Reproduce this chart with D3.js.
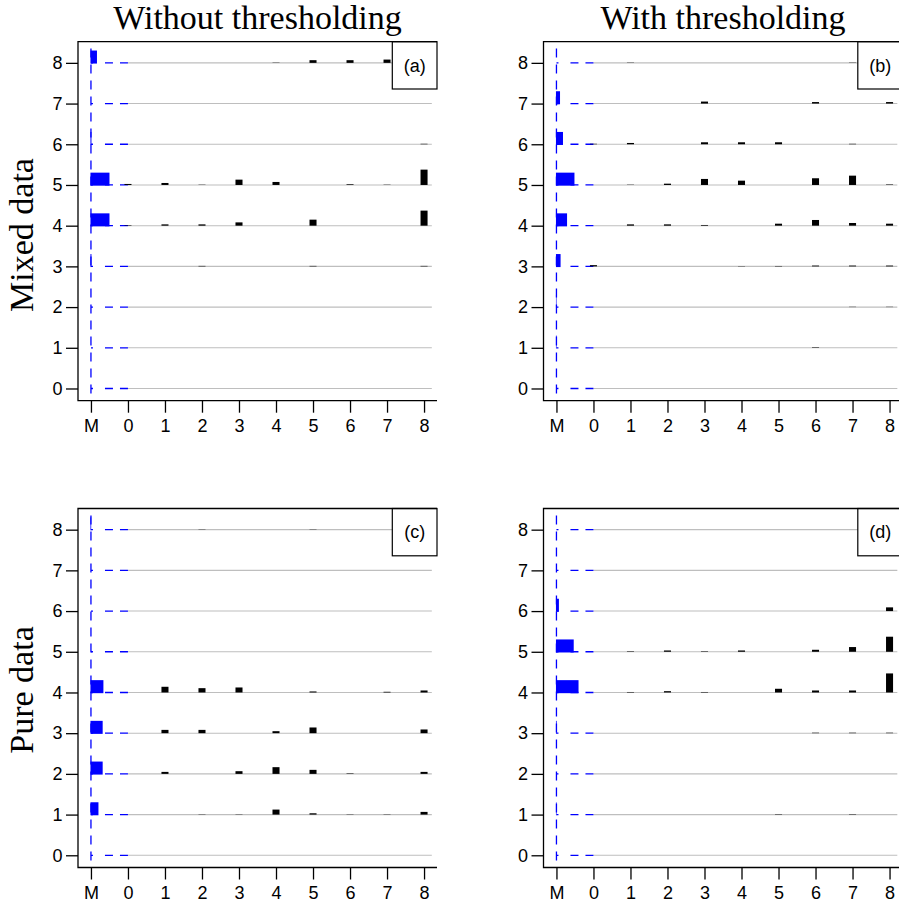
<!DOCTYPE html>
<html>
<head>
<meta charset="utf-8">
<script src="https://cdn.jsdelivr.net/npm/d3@7"></script>
<style>
  html, body { margin: 0; padding: 0; background: #fff; }
  svg { display: block; }
</style>
</head>
<body>
<svg id="chart" width="899" height="909"></svg>
<script>
// ---------- DATA ----------
const xTickValues = [-1, 0, 1, 2, 3, 4, 5, 6, 7, 8];
const xTickLabels = ["M", "0", "1", "2", "3", "4", "5", "6", "7", "8"];
const yTickValues = [0, 1, 2, 3, 4, 5, 6, 7, 8];
const columnTitles = ["Without thresholding", "With thresholding"];
const rowTitles = ["Mixed data", "Pure data"];
const panelLabels = ["(a)", "(b)", "(c)", "(d)"];

// black bars: index = row (0..8), inner index = column (0..8); value = proportion
const barsA = [
  [0, 0, 0, 0, 0, 0, 0, 0, 0],
  [0, 0, 0, 0, 0, 0, 0, 0, 0],
  [0, 0, 0, 0, 0, 0, 0, 0, 0],
  [0, 0, 0.012, 0, 0, 0.012, 0, 0, 0.012],
  [0.012, 0.032, 0.032, 0.081, 0, 0.148, 0, 0, 0.37],
  [0.025, 0.049, 0.007, 0.131, 0.074, 0, 0.017, 0.007, 0.377],
  [0, 0, 0, 0, 0, 0, 0, 0, 0.012],
  [0, 0, 0, 0, 0, 0, 0, 0, 0],
  [0, 0, 0, 0, 0.007, 0.066, 0.066, 0.081, 0]
];
const barsB = [
  [0, 0, 0, 0, 0, 0, 0, 0, 0],
  [0, 0, 0, 0, 0, 0, 0.012, 0, 0],
  [0, 0, 0, 0, 0, 0, 0, 0.007, 0.007],
  [0.03, 0, 0, 0, 0.007, 0.01, 0.02, 0.02, 0.02],
  [0, 0.032, 0.032, 0.017, 0, 0.049, 0.14, 0.066, 0.049],
  [0, 0.007, 0.032, 0.148, 0.106, 0, 0.165, 0.229, 0.012],
  [0.012, 0.032, 0, 0.049, 0.049, 0.049, 0, 0.012, 0],
  [0, 0, 0, 0.049, 0, 0, 0.037, 0, 0.037],
  [0, 0.007, 0, 0, 0, 0, 0, 0.007, 0]
];
const barsC = [
  [0, 0, 0, 0, 0, 0, 0, 0, 0],
  [0, 0, 0.007, 0.007, 0.123, 0.032, 0.007, 0.007, 0.066],
  [0, 0.049, 0, 0.066, 0.165, 0.099, 0.012, 0, 0.049],
  [0, 0.081, 0.081, 0, 0.049, 0.14, 0, 0, 0.091],
  [0, 0.14, 0.106, 0.123, 0, 0.025, 0, 0.017, 0.049],
  [0, 0, 0, 0, 0, 0, 0, 0, 0],
  [0, 0, 0, 0, 0, 0, 0, 0, 0],
  [0, 0, 0, 0, 0, 0, 0, 0, 0],
  [0, 0, 0.007, 0, 0, 0.007, 0, 0, 0]
];
const barsD = [
  [0, 0, 0, 0, 0, 0, 0, 0, 0],
  [0, 0, 0, 0, 0, 0.01, 0, 0.01, 0],
  [0, 0, 0, 0, 0, 0, 0, 0, 0],
  [0, 0, 0, 0, 0, 0, 0.012, 0.012, 0.012],
  [0, 0.012, 0.032, 0.012, 0, 0.091, 0.049, 0.049, 0.468],
  [0, 0.012, 0.032, 0.012, 0.032, 0, 0.049, 0.116, 0.37],
  [0, 0, 0, 0, 0, 0, 0, 0, 0.091],
  [0, 0, 0, 0, 0, 0, 0, 0, 0],
  [0, 0, 0, 0, 0, 0, 0, 0, 0]
];
// blue marginal bars (column M): index = row (0..8)
const marginA = [0, 0, 0, 0.027, 0.514, 0.514, 0.027, 0, 0.176];
const marginB = [0, 0.015, 0.015, 0.125, 0.3, 0.5, 0.19, 0.11, 0];
const marginC = [0, 0.216, 0.33, 0.33, 0.35, 0, 0, 0, 0.02];
const marginD = [0, 0.015, 0, 0.02, 0.61, 0.48, 0.08, 0, 0];

// ---------- LAYOUT ----------
const svg = d3.select("#chart");
const W = 359, H = 359;
const panelLefts = [78, 543.5];
const panelTops = [41.7, 508.5];
const panels = [
  { bars: barsA, margin: marginA, label: panelLabels[0], c: 0, r: 0 },
  { bars: barsB, margin: marginB, label: panelLabels[1], c: 1, r: 0 },
  { bars: barsC, margin: marginC, label: panelLabels[2], c: 0, r: 1 },
  { bars: barsD, margin: marginD, label: panelLabels[3], c: 1, r: 1 }
];

const axisFont = "'Liberation Sans', Arial, Helvetica, sans-serif";
const serifFont = "'Liberation Serif', 'Times New Roman', serif";

panels.forEach(p => {
  const left = panelLefts[p.c], top = panelTops[p.r];
  const x = d3.scaleLinear().domain([-1.35, 8.35]).range([left, left + W]);
  const y = d3.scaleLinear().domain([-0.3, 8.52]).range([top + H, top]);
  const colStep = x(1) - x(0);
  const rowStep = y(0) - y(1);
  const hScale = d3.scaleLinear().domain([0, 1]).range([0, rowStep]);
  const wScale = d3.scaleLinear().domain([0, 1]).range([0, colStep]);
  const g = svg.append("g");

  // gray reference lines
  g.selectAll("line.ref").data(yTickValues).join("line")
    .attr("x1", x(0)).attr("x2", x(8.21))
    .attr("y1", d => y(d)).attr("y2", d => y(d))
    .attr("stroke", "#bebebe").attr("stroke-width", 1.1);

  // blue dashed horizontals from 0 to M
  g.selectAll("line.bh").data(yTickValues).join("line")
    .attr("x1", x(0)).attr("x2", x(-1))
    .attr("y1", d => y(d)).attr("y2", d => y(d))
    .attr("stroke", "#0000ff").attr("stroke-width", 1.3)
    .attr("stroke-dasharray", "8,7,8,12,2");

  // blue dashed vertical at M
  g.append("line")
    .attr("x1", x(-1)).attr("x2", x(-1))
    .attr("y1", y(8.35)).attr("y2", y(-0.22))
    .attr("stroke", "#0000ff").attr("stroke-width", 1.3)
    .attr("stroke-dasharray", "9,7");

  // black bars
  const cells = [];
  p.bars.forEach((row, ri) => row.forEach((v, ci) => { if (v > 0) cells.push({ r: ri, c: ci, v }); }));
  const bw = 0.19 * colStep;
  g.selectAll("rect.bar").data(cells).join("rect")
    .attr("x", d => x(d.c) - bw / 2)
    .attr("width", bw)
    .attr("y", d => y(d.r) - hScale(d.v))
    .attr("height", d => hScale(d.v))
    .attr("fill", "#000");

  // blue marginal bars
  const bh = 0.32 * rowStep;
  const marg = p.margin.map((v, ri) => ({ r: ri, v })).filter(d => d.v > 0);
  g.selectAll("rect.m").data(marg).join("rect")
    .attr("x", x(-1) - 0.5)
    .attr("width", d => wScale(d.v))
    .attr("y", d => y(d.r) + 0.7 - bh)
    .attr("height", bh)
    .attr("fill", "#0000ff");

  // legend box
  const lbW = 44.7, lbH = 47.3;
  g.append("rect")
    .attr("x", left + W - lbW).attr("y", top)
    .attr("width", lbW).attr("height", lbH)
    .attr("fill", "#fff").attr("stroke", "#000").attr("stroke-width", 1.2);
  g.append("text")
    .attr("x", left + W - lbW / 2).attr("y", top + lbH / 2)
    .attr("dy", "0.35em").attr("text-anchor", "middle")
    .attr("font-family", axisFont).attr("font-size", 18)
    .text(p.label);

  // box: left, top, bottom (bty = "c")
  g.append("path")
    .attr("d", `M${left + W},${top}H${left}V${top + H}H${left + W}`)
    .attr("fill", "none").attr("stroke", "#000").attr("stroke-width", 1.3);

  // axes
  const ax = g.append("g").attr("transform", `translate(0,${top + H})`)
    .call(d3.axisBottom(x).tickValues(xTickValues)
      .tickFormat((d, i) => xTickLabels[i]).tickSize(12).tickPadding(7));
  const ay = g.append("g").attr("transform", `translate(${left},0)`)
    .call(d3.axisLeft(y).tickValues(yTickValues)
      .tickFormat(d3.format("d")).tickSize(12).tickPadding(3.5));
  [ax, ay].forEach(a => {
    a.select(".domain").remove();
    a.selectAll(".tick line").attr("stroke", "#000").attr("stroke-width", 1.3);
    a.selectAll(".tick text").attr("font-family", axisFont).attr("font-size", 18).attr("fill", "#000");
  });
});

// column titles
svg.selectAll("text.ctitle").data(columnTitles).join("text")
  .attr("x", (d, i) => panelLefts[i] + W / 2)
  .attr("y", 29.3)
  .attr("text-anchor", "middle")
  .attr("font-family", serifFont).attr("font-size", 34)
  .text(d => d);

// row titles
const rowCenters = [235, 690];
svg.selectAll("text.rtitle").data(rowTitles).join("text")
  .attr("transform", (d, i) => `translate(33,${rowCenters[i]}) rotate(-90)`)
  .attr("text-anchor", "middle")
  .attr("font-family", serifFont).attr("font-size", 34)
  .text(d => d);
</script>
</body>
</html>
